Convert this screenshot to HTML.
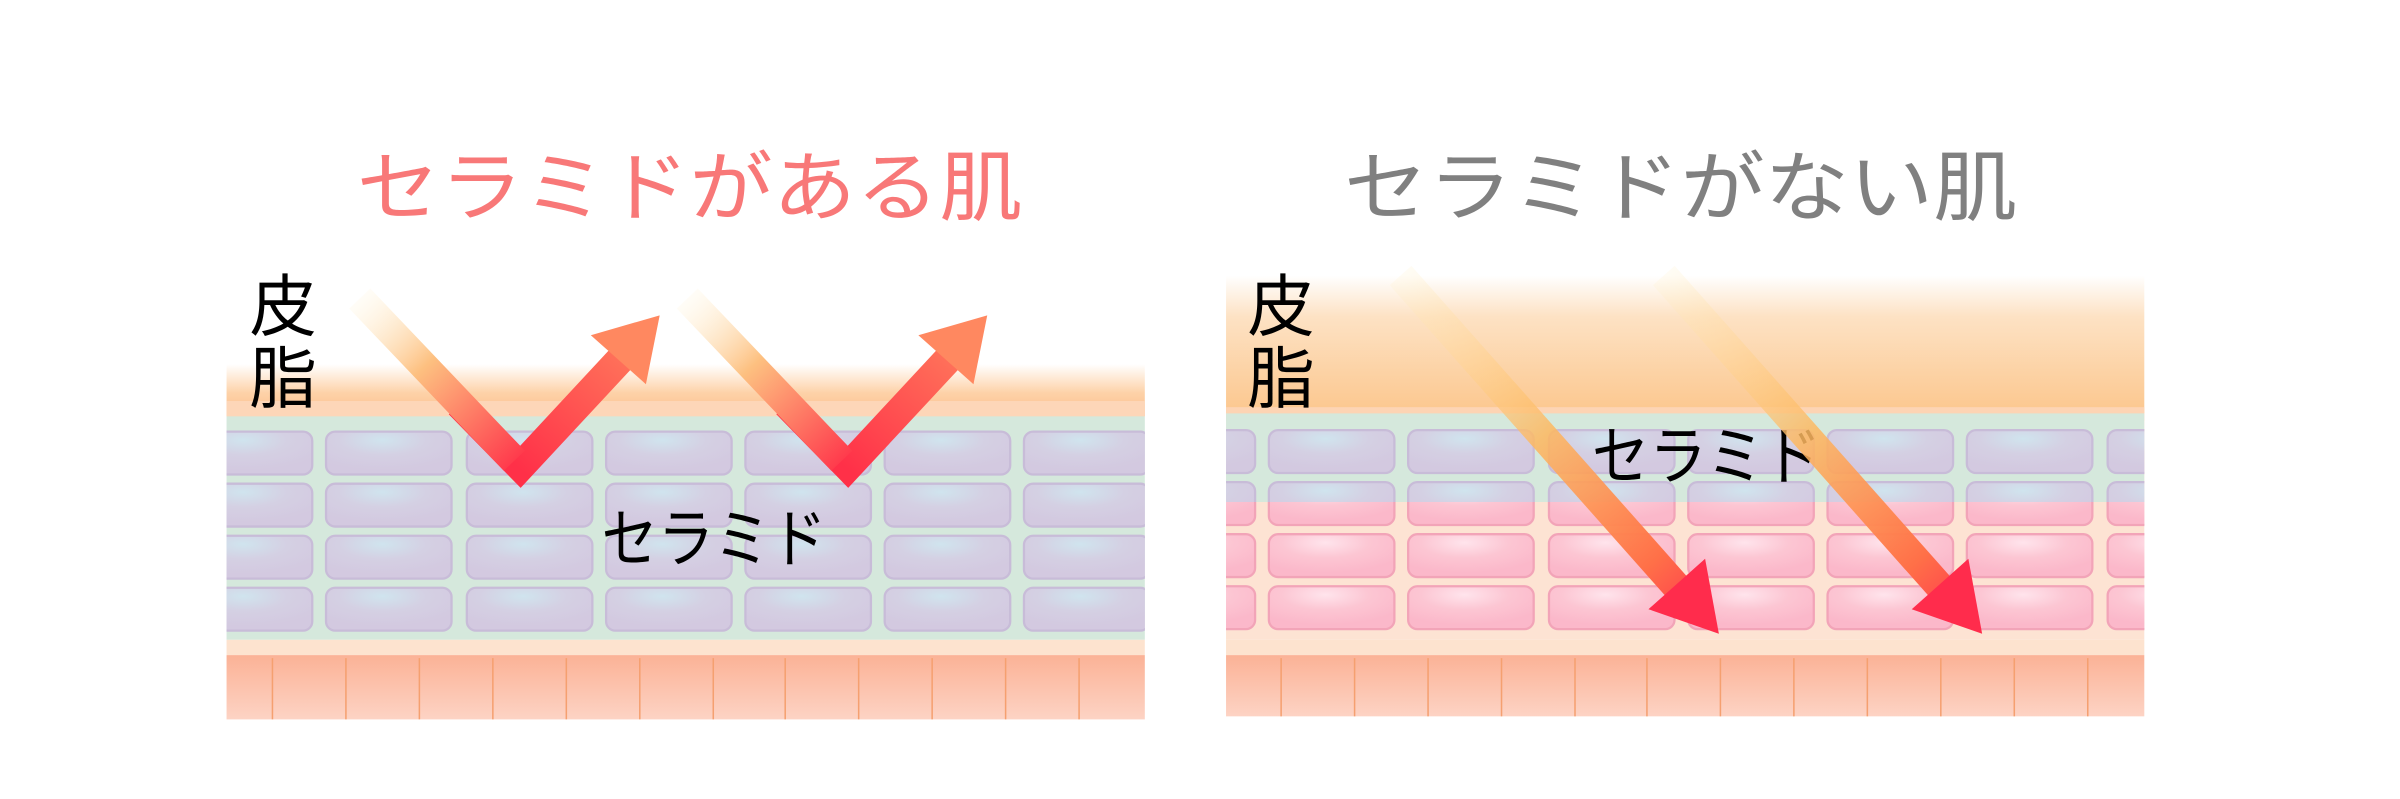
<!DOCTYPE html>
<html><head><meta charset="utf-8"><style>
html,body{margin:0;padding:0;background:#fff;width:2400px;height:799px;overflow:hidden}
svg{display:block}
text{font-family:"Liberation Sans","Noto Sans CJK JP",sans-serif}
</style></head><body>
<svg width="2400" height="799" viewBox="0 0 1568 522" preserveAspectRatio="none" xmlns="http://www.w3.org/2000/svg">
<defs>
 <linearGradient id="fatL" x1="0" y1="0" x2="0" y2="1">
  <stop offset="0" stop-color="#fff"/><stop offset="0.55" stop-color="#fdd2a8"/><stop offset="1" stop-color="#fcbe8c"/>
 </linearGradient>
 <linearGradient id="fatR" x1="0" y1="0" x2="0" y2="1">
  <stop offset="0" stop-color="#fff"/><stop offset="0.3" stop-color="#fde2c4"/><stop offset="1" stop-color="#fcc78e"/>
 </linearGradient>
 <linearGradient id="base" x1="0" y1="0" x2="0" y2="1">
  <stop offset="0" stop-color="#fbb296"/><stop offset="1" stop-color="#fdd3c4"/>
 </linearGradient>
 <radialGradient id="cellP" cx="0.45" cy="0.2" r="0.7">
  <stop offset="0" stop-color="#d0e4ee"/><stop offset="0.5" stop-color="#d4d0e3"/><stop offset="1" stop-color="#d3c9e0"/>
 </radialGradient>
 <radialGradient id="cellK" cx="0.45" cy="0.2" r="0.7">
  <stop offset="0" stop-color="#ffe4ec"/><stop offset="0.5" stop-color="#fcc6d3"/><stop offset="1" stop-color="#fbb8ca"/>
 </radialGradient>
 <linearGradient id="a1" gradientUnits="userSpaceOnUse" x1="235" y1="195" x2="340" y2="307">
  <stop offset="0" stop-color="#fff4d8" stop-opacity="0.2"/><stop offset="0.4" stop-color="#fdc080"/><stop offset="1" stop-color="#ff3048"/>
 </linearGradient>
 <linearGradient id="a2" gradientUnits="userSpaceOnUse" x1="340" y1="307" x2="430" y2="207">
  <stop offset="0" stop-color="#ff3048"/><stop offset="1" stop-color="#ff8860"/>
 </linearGradient>
 <linearGradient id="b1" gradientUnits="userSpaceOnUse" x1="915" y1="180" x2="1122" y2="413">
  <stop offset="0" stop-color="#fff0c8" stop-opacity="0.2"/><stop offset="0.45" stop-color="#fdb860" stop-opacity="0.85"/><stop offset="0.8" stop-color="#ff7048"/><stop offset="1" stop-color="#ff2850"/>
 </linearGradient>
 <clipPath id="topR"><rect x="801" y="270" width="600" height="58"/></clipPath>
 <clipPath id="panL"><rect x="148" y="150" width="600" height="330"/></clipPath>
 <clipPath id="panR"><rect x="801" y="150" width="600" height="330"/></clipPath>
</defs>

<text x="233" y="140" font-size="50" fill="#f87878" textLength="435" lengthAdjust="spacingAndGlyphs">セラミドがある肌</text>
<text x="878" y="140" font-size="50" fill="#808080" textLength="440" lengthAdjust="spacingAndGlyphs">セラミドがない肌</text>

<g clip-path="url(#panL)">
 <rect x="148" y="238" width="600" height="34" fill="url(#fatL)"/>
 <rect x="148" y="262" width="600" height="10" fill="#fdd6b8"/>
 <rect x="148" y="272" width="600" height="146" fill="#d5e8dc"/>
 <g fill="url(#cellP)" stroke="#c8bcd8" stroke-width="1.5">
  <g id="rowL">
   <rect x="122" y="282" width="82" height="28" rx="6"/>
   <rect x="213" y="282" width="82" height="28" rx="6"/>
   <rect x="305" y="282" width="82" height="28" rx="6"/>
   <rect x="396" y="282" width="82" height="28" rx="6"/>
   <rect x="487" y="282" width="82" height="28" rx="6"/>
   <rect x="578" y="282" width="82" height="28" rx="6"/>
   <rect x="669" y="282" width="82" height="28" rx="6"/>
  </g>
  <use href="#rowL" y="34"/><use href="#rowL" y="68"/><use href="#rowL" y="102"/>
 </g>
 <rect x="148" y="418" width="600" height="10" fill="#fde3cf"/>
 <rect x="148" y="428" width="600" height="42" fill="url(#base)"/>
 <g stroke="#f5a070" stroke-width="1">
  <line x1="178" y1="430" x2="178" y2="470"/><line x1="226" y1="430" x2="226" y2="470"/><line x1="274" y1="430" x2="274" y2="470"/><line x1="322" y1="430" x2="322" y2="470"/><line x1="370" y1="430" x2="370" y2="470"/><line x1="418" y1="430" x2="418" y2="470"/><line x1="466" y1="430" x2="466" y2="470"/><line x1="513" y1="430" x2="513" y2="470"/><line x1="561" y1="430" x2="561" y2="470"/><line x1="609" y1="430" x2="609" y2="470"/><line x1="657" y1="430" x2="657" y2="470"/><line x1="705" y1="430" x2="705" y2="470"/>
 </g>
</g>
<g id="vArrow">
 <polyline points="300,264 340,305 406,234" fill="none" stroke="url(#a2)" stroke-width="19" stroke-linejoin="miter" stroke-miterlimit="10"/>
 <polygon points="431,206 422,251 386,219" fill="#ff8860"/>
 <line x1="235" y1="195" x2="336" y2="301" stroke="url(#a1)" stroke-width="19"/>
</g>
<use href="#vArrow" x="214"/>

<text x="163" y="216" font-size="44" fill="#000">皮</text>
<text x="163" y="263" font-size="44" fill="#000">脂</text>
<text x="393" y="367" font-size="42" fill="#000" textLength="147" lengthAdjust="spacingAndGlyphs">セラミド</text>

<g clip-path="url(#panR)">
 <rect x="801" y="180" width="600" height="90" fill="url(#fatR)"/>
 <rect x="801" y="266" width="600" height="9" fill="#fdd4b4"/>
 <rect x="801" y="275" width="600" height="143" fill="#fde3d3"/>
 <g fill="url(#cellK)" stroke="#f2a4b8" stroke-width="1.5">
  <g id="rowR">
   <rect x="738" y="281" width="82" height="28" rx="6"/>
   <rect x="829" y="281" width="82" height="28" rx="6"/>
   <rect x="920" y="281" width="82" height="28" rx="6"/>
   <rect x="1012" y="281" width="82" height="28" rx="6"/>
   <rect x="1103" y="281" width="82" height="28" rx="6"/>
   <rect x="1194" y="281" width="82" height="28" rx="6"/>
   <rect x="1285" y="281" width="82" height="28" rx="6"/>
   <rect x="1377" y="281" width="82" height="28" rx="6"/>
  </g>
  <use href="#rowR" y="34"/><use href="#rowR" y="68"/><use href="#rowR" y="102"/>
 </g>
 <g clip-path="url(#topR)">
  <rect x="801" y="270" width="600" height="60" fill="#d5e8dc"/>
  <g fill="url(#cellP)" stroke="#c8bcd8" stroke-width="1.5">
   <g id="rowR2">
    <rect x="738" y="281" width="82" height="28" rx="6"/>
    <rect x="829" y="281" width="82" height="28" rx="6"/>
    <rect x="920" y="281" width="82" height="28" rx="6"/>
    <rect x="1012" y="281" width="82" height="28" rx="6"/>
    <rect x="1103" y="281" width="82" height="28" rx="6"/>
    <rect x="1194" y="281" width="82" height="28" rx="6"/>
    <rect x="1285" y="281" width="82" height="28" rx="6"/>
    <rect x="1377" y="281" width="82" height="28" rx="6"/>
   </g>
   <use href="#rowR2" y="34"/>
  </g>
 </g>
 <rect x="801" y="418" width="600" height="10" fill="#fde3cf"/>
 <rect x="801" y="428" width="600" height="40" fill="url(#base)"/>
 <g stroke="#f5a070" stroke-width="1">
  <line x1="837" y1="430" x2="837" y2="468"/><line x1="885" y1="430" x2="885" y2="468"/><line x1="933" y1="430" x2="933" y2="468"/><line x1="981" y1="430" x2="981" y2="468"/><line x1="1029" y1="430" x2="1029" y2="468"/><line x1="1076" y1="430" x2="1076" y2="468"/><line x1="1124" y1="430" x2="1124" y2="468"/><line x1="1172" y1="430" x2="1172" y2="468"/><line x1="1220" y1="430" x2="1220" y2="468"/><line x1="1268" y1="430" x2="1268" y2="468"/><line x1="1316" y1="430" x2="1316" y2="468"/><line x1="1364" y1="430" x2="1364" y2="468"/>
 </g>
</g>
<text x="815" y="216" font-size="44" fill="#000">皮</text>
<text x="815" y="263" font-size="44" fill="#000">脂</text>
<text x="1040" y="313" font-size="42" fill="#000" textLength="150" lengthAdjust="spacingAndGlyphs">セラミド</text>

<g id="dArrow">
 <line x1="915" y1="180" x2="1096" y2="384" stroke="url(#b1)" stroke-width="19"/>
 <polygon points="1123,414 1114,365 1077,398" fill="#ff2c4c"/>
</g>
<use href="#dArrow" x="172"/>
</svg>
</body></html>
